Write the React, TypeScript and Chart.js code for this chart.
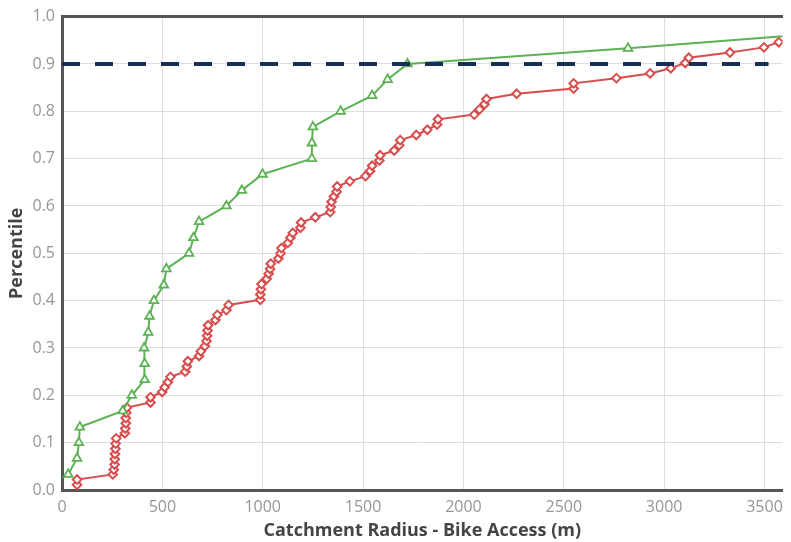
import React, { useEffect, useRef } from "react";
import { Chart, registerables } from "chart.js";

Chart.register(...registerables);

// Cumulative share of stations reached within a given bike-access radius
const greenRadius = [
  31, 75, 84, 89, 302, 348, 412, 412, 409, 430, 436, 458, 507, 520, 633, 655,
  683, 819, 896, 999, 1245, 1245, 1250, 1388, 1545, 1622, 1721, 2820, 3850,
];
const greenPct = [
  0.033, 0.067, 0.1, 0.133, 0.167, 0.2, 0.233, 0.267, 0.3, 0.333, 0.367, 0.4,
  0.433, 0.467, 0.5, 0.533, 0.567, 0.6, 0.633, 0.667, 0.7, 0.733, 0.767, 0.8,
  0.833, 0.867, 0.9, 0.933, 0.967,
];

const redRadius = [
  75, 75, 253, 258, 262, 263, 264, 266, 267, 270, 313, 315, 318, 318, 320, 323,
  441, 441, 499, 512, 528, 540, 614, 622, 627, 683, 692, 712, 720, 723, 725,
  728, 764, 774, 819, 830, 988, 988, 991, 994, 1020, 1030, 1037, 1040, 1078,
  1089, 1093, 1125, 1138, 1150, 1188, 1191, 1262, 1336, 1339, 1343, 1355, 1368,
  1371, 1434, 1512, 1535, 1545, 1581, 1585, 1655, 1680, 1685, 1765, 1820, 1869,
  1873, 2054, 2080, 2105, 2115, 2265, 2549, 2549, 2762, 2930, 3033, 3105, 3123,
  3328, 3497, 3571, 3700,
];
const redPct = [
  0.011, 0.022, 0.033, 0.043, 0.054, 0.065, 0.076, 0.087, 0.098, 0.109, 0.12,
  0.13, 0.141, 0.152, 0.163, 0.174, 0.185, 0.196, 0.207, 0.217, 0.228, 0.239,
  0.25, 0.261, 0.272, 0.283, 0.293, 0.304, 0.315, 0.326, 0.337, 0.348, 0.359,
  0.37, 0.38, 0.391, 0.402, 0.413, 0.424, 0.435, 0.446, 0.457, 0.467, 0.478,
  0.489, 0.5, 0.511, 0.522, 0.533, 0.543, 0.554, 0.565, 0.576, 0.587, 0.598,
  0.609, 0.62, 0.63, 0.641, 0.652, 0.663, 0.674, 0.685, 0.696, 0.707, 0.717,
  0.728, 0.739, 0.75, 0.761, 0.772, 0.783, 0.793, 0.804, 0.815, 0.826, 0.837,
  0.848, 0.859, 0.87, 0.88, 0.891, 0.902, 0.913, 0.924, 0.935, 0.946, 0.957,
];

// 90th percentile reference
const targetRadius = [0, 3520];
const targetPct = [0.9, 0.9];

const xTicks = [0, 500, 1000, 1500, 2000, 2500, 3000, 3500];
const yTicks = [0, 0.1, 0.2, 0.3, 0.4, 0.5, 0.6, 0.7, 0.8, 0.9, 1.0];
const xMin = 0;
const xMax = 3590;
const yMin = 0;
const yMax = 1;

const GREEN = "rgb(92, 178, 84)";
const RED = "rgb(214, 78, 78)";
const NAVY = "rgb(24, 46, 84)";
const AXIS = "rgb(85, 85, 85)";
const GRID = "rgb(222, 222, 222)";
const TICK = "rgb(150, 150, 150)";
const TITLE = "rgb(68, 68, 68)";
const FONT = "'Open Sans', 'Noto Sans', sans-serif";

const toPoints = (xs: number[], ys: number[]) =>
  xs.map((x, i) => ({ x, y: ys[i] }));

export default function App() {
  const canvasRef = useRef<HTMLCanvasElement | null>(null);

  useEffect(() => {
    const canvas = canvasRef.current;
    if (!canvas) return;
    const chart = new Chart(canvas, {
      type: "scatter",
      data: {
        datasets: [
          {
            label: "90th percentile",
            data: toPoints(targetRadius, targetPct),
            showLine: true,
            borderColor: NAVY,
            borderWidth: 4,
            borderDash: [18, 15],
            pointRadius: 0,
            order: 0,
          },
          {
            label: "Green",
            data: toPoints(greenRadius, greenPct),
            showLine: true,
            borderColor: GREEN,
            borderWidth: 2,
            pointStyle: "triangle",
            pointRadius: 5,
            pointBorderWidth: 1.8,
            pointBackgroundColor: "#ffffff",
            pointBorderColor: GREEN,
            order: 1,
          },
          {
            label: "Red",
            data: toPoints(redRadius, redPct),
            showLine: true,
            borderColor: RED,
            borderWidth: 2,
            pointStyle: "rectRot",
            pointRadius: 4.3,
            pointBorderWidth: 2,
            pointBackgroundColor: "#ffffff",
            pointBorderColor: RED,
            order: 2,
          },
        ],
      },
      options: {
        animation: false,
        responsive: false,
        devicePixelRatio: 1,
        layout: { padding: 0 },
        plugins: {
          legend: { display: false },
          tooltip: { enabled: false },
        },
        scales: {
          x: {
            type: "linear",
            position: "bottom",
            min: xMin,
            max: xMax,
            afterBuildTicks: (scale: any) => {
              scale.ticks = xTicks.map((value) => ({ value }));
            },
            grid: { color: GRID, lineWidth: 1, drawTicks: false },
            border: { display: true, color: AXIS, width: 3 },
            ticks: {
              autoSkip: false,
              padding: 8,
              color: TICK,
              font: { family: FONT, size: 16 },
              maxRotation: 0,
              callback: (v: any) => String(v),
            },
            title: {
              display: true,
              text: "Catchment Radius - Bike Access (m)",
              color: TITLE,
              font: { family: FONT, size: 18, weight: "bold" },
              padding: { top: 0, bottom: 0 },
            },
            afterFit: (scale: any) => {
              scale.height = 52;
            },
          },
          xTop: {
            type: "linear",
            position: "top",
            min: xMin,
            max: xMax,
            grid: { display: false, drawTicks: false },
            border: { display: true, color: AXIS, width: 3 },
            ticks: { display: false },
            afterFit: (scale: any) => {
              scale.height = 14;
            },
          },
          y: {
            type: "linear",
            min: yMin,
            max: yMax,
            afterBuildTicks: (scale: any) => {
              scale.ticks = yTicks.map((value) => ({ value }));
            },
            grid: { color: GRID, lineWidth: 1, drawTicks: false },
            border: { display: true, color: AXIS, width: 3 },
            ticks: {
              autoSkip: false,
              padding: 7,
              color: TICK,
              font: { family: FONT, size: 16 },
              callback: (v: any) => Number(v).toFixed(1),
            },
            title: {
              display: true,
              text: "Percentile",
              color: TITLE,
              font: { family: FONT, size: 18, weight: "bold" },
              padding: { top: 6, bottom: 0 },
            },
            afterFit: (scale: any) => {
              scale.width = 62;
            },
          },
        },
      },
    });
    return () => chart.destroy();
  }, []);

  return (
    <div
      style={{
        position: "fixed",
        left: 0,
        top: 0,
        width: 791,
        height: 542,
        background: "#ffffff",
      }}
    >
      <canvas ref={canvasRef} width={791} height={542} />
    </div>
  );
}
